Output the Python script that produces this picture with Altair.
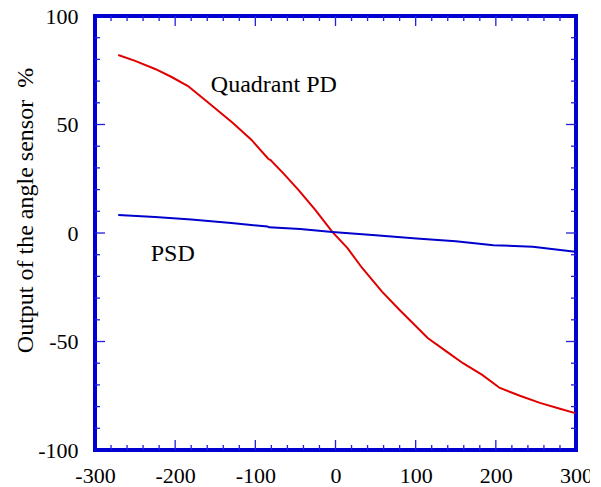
import altair as alt
import pandas as pd

# Quadrant PD (red) curve
qpd_x = [-271, -250, -225, -205, -184, -160, -128, -105, -84, -81, -65, -46, -25, -4, 15, 33, 58, 80, 115, 140, 159, 183, 205, 230, 255, 280, 299]
qpd_y = [82, 79.3, 75.6, 72.0, 67.7, 60.5, 50.7, 43.0, 34.2, 33.6, 27.5, 19.8, 10.5, 0.5, -7, -16, -27, -35.5, -48.4, -55.0, -60, -65.4, -71.4, -75.0, -78.3, -81.0, -83]

# PSD (blue) curve
psd_x = [-271, -225, -180, -130, -85, -83, -44, -4, 50, 101, 150, 197, 246, 299]
psd_y = [8.3, 7.4, 6.2, 4.6, 3.0, 2.6, 1.8, 0.5, -1.0, -2.5, -3.8, -5.6, -6.3, -8.6]

x_major = [-200, -100, 0, 100, 200]
x_minor = [v for v in range(-280, 300, 20) if v % 100 != 0]
y_major = [-50, 0, 50]
y_minor = [v for v in range(-90, 100, 10) if v % 50 != 0]

labels = ["Quadrant PD", "PSD"]
label_x = [-155.5, -230.5]
label_y = [65.0, -12.9]

W, H = 481, 434
FONT = "Liberation Serif"
TICK = "#2020dd"

xs = alt.Scale(domain=[-300, 300], nice=False, zero=False)
ys = alt.Scale(domain=[-100, 100], nice=False, zero=False)

df = pd.concat([
    pd.DataFrame({"x": qpd_x, "y": qpd_y, "s": "Quadrant PD"}),
    pd.DataFrame({"x": psd_x, "y": psd_y, "s": "PSD"}),
])

x_axis = alt.Axis(values=[-300, -200, -100, 0, 100, 200, 300], labelFont=FONT, labelFontSize=22,
                  labelColor="black", ticks=False, tickSize=0, domain=False, grid=False,
                  labelPadding=15, title=None, labelFlush=False,
                  labelExpr="'' + datum.value")
y_axis = alt.Axis(values=[-100, -50, 0, 50, 100], labelFont=FONT, labelFontSize=22,
                  labelColor="black", ticks=False, tickSize=0, domain=False, grid=False,
                  labelPadding=17, title="Output of the angle sensor\u00a0 %", titleFont=FONT,
                  titleFontSize=24, titleFontWeight="normal", titleColor="black",
                  titleX=-58, titleY=194, labelFlush=False,
                  labelExpr="'' + datum.value")

lines = alt.Chart(df).mark_line(strokeWidth=2, clip=True).encode(
    x=alt.X("x:Q", scale=xs, axis=x_axis),
    y=alt.Y("y:Q", scale=ys, axis=y_axis),
    color=alt.Color("s:N", scale=alt.Scale(domain=["Quadrant PD", "PSD"], range=["#e00000", "#0000cc"]), legend=None),
    detail="s:N",
)

def xticks(vals, length):
    d = pd.DataFrame({"x": vals})
    bottom = alt.Chart(d).mark_rule(color=TICK, strokeWidth=1.3).encode(
        x=alt.X("x:Q", scale=xs), y=alt.value(H), y2=alt.value(H - length))
    top = alt.Chart(d).mark_rule(color=TICK, strokeWidth=1.3).encode(
        x=alt.X("x:Q", scale=xs), y=alt.value(0), y2=alt.value(length))
    return [bottom, top]

def yticks(vals, length):
    d = pd.DataFrame({"y": vals})
    left = alt.Chart(d).mark_rule(color=TICK, strokeWidth=1.3).encode(
        y=alt.Y("y:Q", scale=ys), x=alt.value(0), x2=alt.value(length))
    right = alt.Chart(d).mark_rule(color=TICK, strokeWidth=1.3).encode(
        y=alt.Y("y:Q", scale=ys), x=alt.value(W), x2=alt.value(W - length))
    return [left, right]

ticks = xticks(x_major, 10) + xticks(x_minor, 5) + yticks(y_major, 10) + yticks(y_minor, 5)

text = alt.Chart(pd.DataFrame({"x": label_x, "y": label_y, "t": labels})).mark_text(
    font=FONT, fontSize=24, align="left", baseline="alphabetic", color="black"
).encode(x=alt.X("x:Q", scale=xs), y=alt.Y("y:Q", scale=ys), text="t:N")

chart = alt.layer(lines, *ticks, text).properties(
    width=W, height=H,
    autosize=alt.AutoSizeParams(type="none"),
    padding={"left": 87, "top": 8, "right": 14, "bottom": 37},
).configure(background="white").configure_view(stroke="#0000d0", strokeWidth=4)

chart.save("out.html", embed_options={"renderer": "svg", "actions": False})
